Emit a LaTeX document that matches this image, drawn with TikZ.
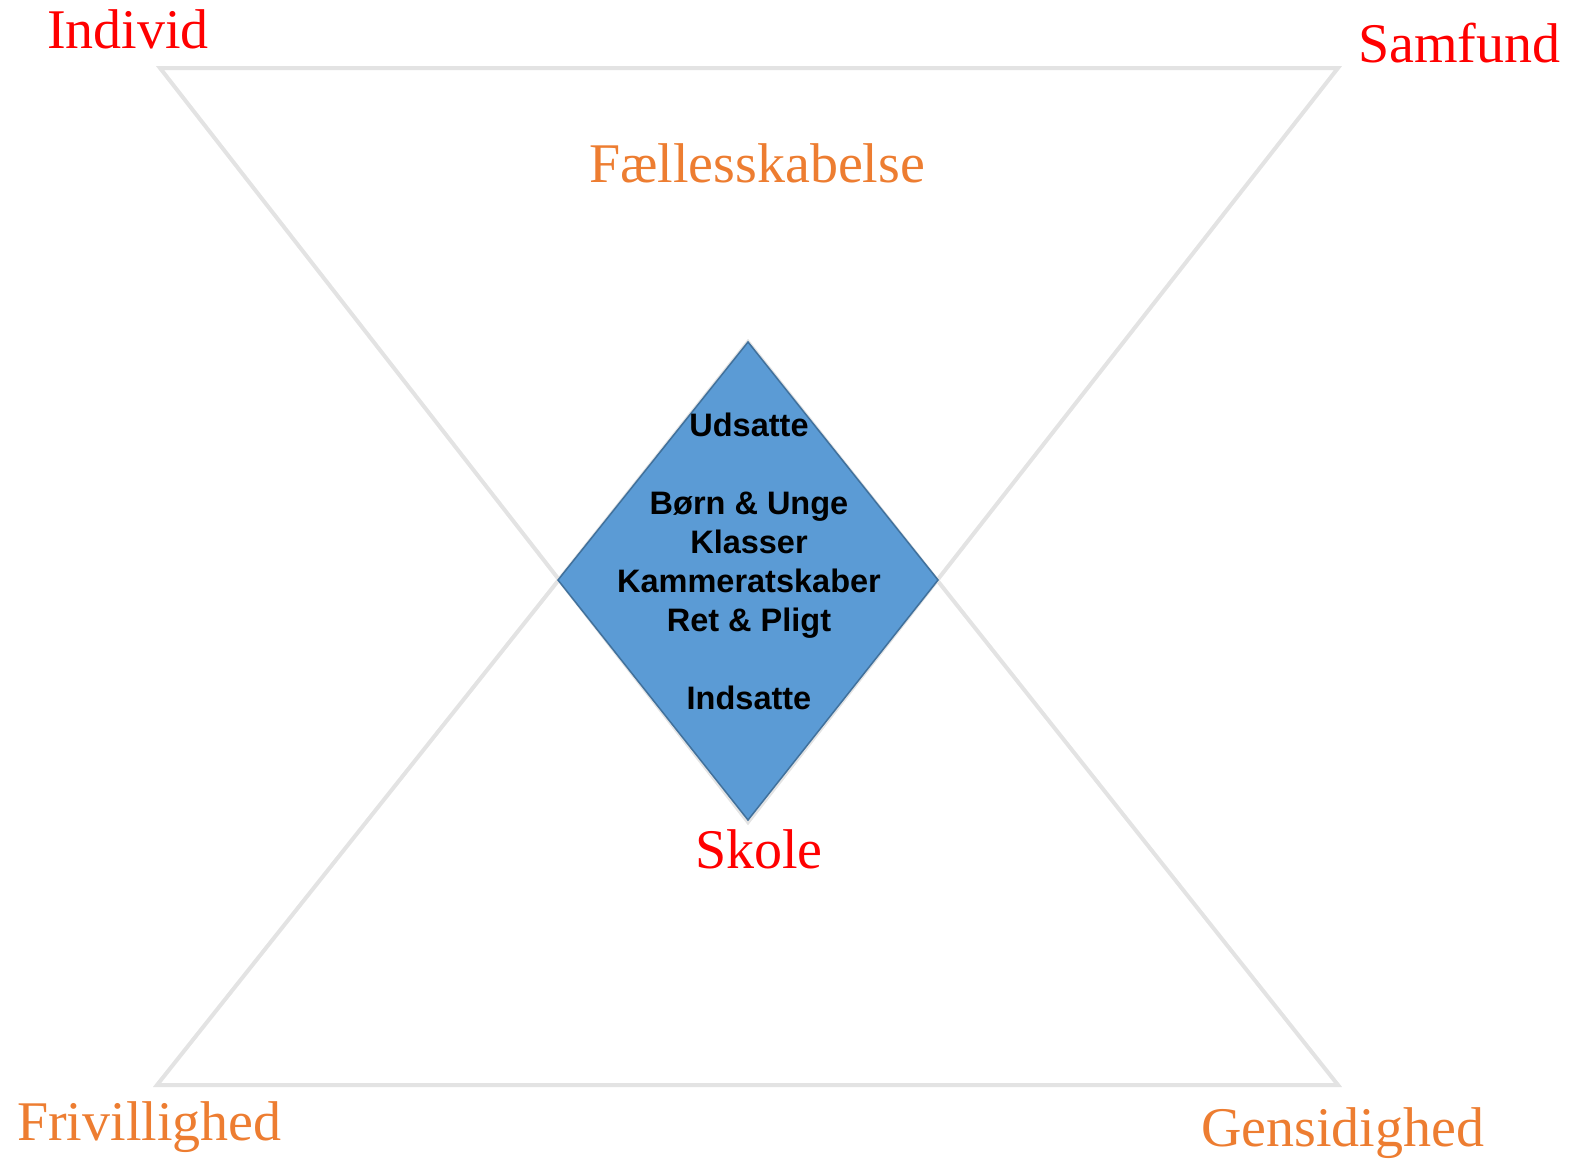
\documentclass[tikz,border=0pt]{standalone}
\usepackage{fontspec}
\setmainfont{Liberation Serif}
\newfontfamily\arialfont{Liberation Sans}
\definecolor{lineGray}{HTML}{E3E3E3}
\definecolor{diaFill}{HTML}{5B9BD5}
\definecolor{diaEdge}{HTML}{41719C}
\definecolor{lblRed}{HTML}{FF0000}
\definecolor{lblOrange}{HTML}{ED7D31}
\begin{document}
\begin{tikzpicture}[x=1bp,y=-1bp,
  tri/.style={draw=lineGray,line width=4bp,line join=miter},
  redlbl/.style={text=lblRed,font=\fontsize{56bp}{60bp}\selectfont,inner sep=0pt,anchor=base west},
  orlbl/.style={text=lblOrange,font=\fontsize{56bp}{60bp}\selectfont,inner sep=0pt,anchor=base west},
  dtext/.style={font=\arialfont\bfseries\fontsize{32.5bp}{36bp}\selectfont,inner sep=0pt,anchor=base,text=black}]
\useasboundingbox (0,0) rectangle (1574,1160);
% triangles
\coordinate (tl) at (160,68);
\coordinate (tr) at (1338,68);
\coordinate (tapex) at (748,822);
\coordinate (bl) at (157,1085);
\coordinate (br) at (1338,1085);
\coordinate (bapex) at (748,342);
\draw[tri] (tl) -- (tr) -- (tapex) -- cycle;
\draw[tri] (bl) -- (br) -- (bapex) -- cycle;
% diamond
\coordinate (dT) at (748,342);
\coordinate (dL) at (558,580);
\coordinate (dR) at (938,580);
\coordinate (dB) at (748,820);
\draw[fill=diaFill,draw=diaEdge,line width=1.5bp,line join=miter] (dT) -- (dR) -- (dB) -- (dL) -- cycle;
\node[dtext] (t1) at (749,436) {Udsatte};
\node[dtext] (t2) at (749,514) {Børn \& Unge};
\node[dtext] (t3) at (749,553) {Klasser};
\node[dtext] (t4) at (749,592) {Kammeratskaber};
\node[dtext] (t5) at (749,631) {Ret \& Pligt};
\node[dtext] (t6) at (749,709) {Indsatte};
% labels
\node[redlbl] (individ) at (47,48) {Individ};
\node[redlbl] (samfund) at (1358,62) {Samfund};
\node[orlbl] (faelles) at (589,182) {Fællesskabelse};
\node[redlbl,anchor=base] (skole) at (759,868) {Skole};
\node[orlbl] (friv) at (17,1140) {Frivillighed};
\node[orlbl] (gens) at (1201,1146) {Gensidighed};
\end{tikzpicture}
\end{document}
